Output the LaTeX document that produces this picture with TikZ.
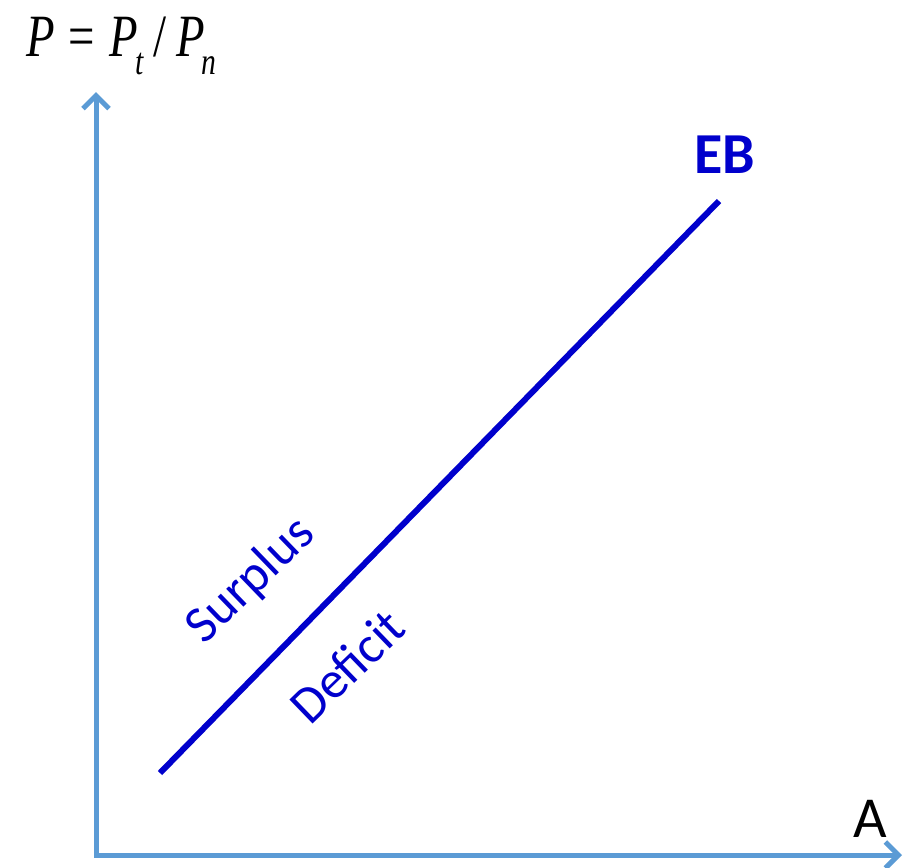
\documentclass[tikz,border=0pt]{standalone}
\usepackage{fontspec}
\setmainfont{Carlito}
\newfontfamily\tnr{Liberation Serif}
\usetikzlibrary{arrows.meta}
\definecolor{axisblue}{HTML}{5B9BD5}
\definecolor{ebblue}{HTML}{0000CC}
\tikzset{
  axis/.style={draw=axisblue, line width=5pt, -{Straight Barb[length=13pt, width=26pt, line width=5pt]}},
  ebline/.style={draw=ebblue, line width=6pt},
  lbl/.style={text=ebblue, font=\fontsize{52}{52}\selectfont, inner sep=0pt},
}
\newcommand\subsc[1]{\raisebox{-0.3em}{\fontsize{38}{38}\selectfont #1}}
\begin{document}
\begin{tikzpicture}[x=1pt, y=-1pt]
\useasboundingbox (0,0) rectangle (906,868);
\coordinate (O) at (96,855);
\coordinate (Ytip) at (96,92);
\coordinate (Xtip) at (902,855);
\draw[axis] (96,857) -- (Ytip);
\draw[axis] (94,855) -- (Xtip);
\coordinate (E1) at (160,773);
\coordinate (E2) at (719,201);
\draw[ebline] (E1) -- (E2);
\node[text=ebblue, font=\fontsize{58}{58}\selectfont\bfseries, inner sep=0pt] (eb) at (725,155) {EB};
\node[lbl, rotate=44] (surplus) at (251,581) {Surplus};
\node[lbl, rotate=44] (deficit) at (347,666) {Deficit};
\node[font=\fontsize{58}{58}\selectfont, inner sep=0pt] (A) at (870,819) {A};
\node[anchor=base west, inner sep=0pt, xscale=0.78, font=\tnr\fontsize{60}{60}\selectfont] (formula) at (26,56)
  {\itshape P\upshape\hspace{0.3em}=\hspace{0.3em}\itshape P\kern-0.05em\subsc{t}\upshape\hspace{0.22em}/\hspace{0.2em}\itshape P\kern-0.08em\subsc{n}};
\end{tikzpicture}
\end{document}
